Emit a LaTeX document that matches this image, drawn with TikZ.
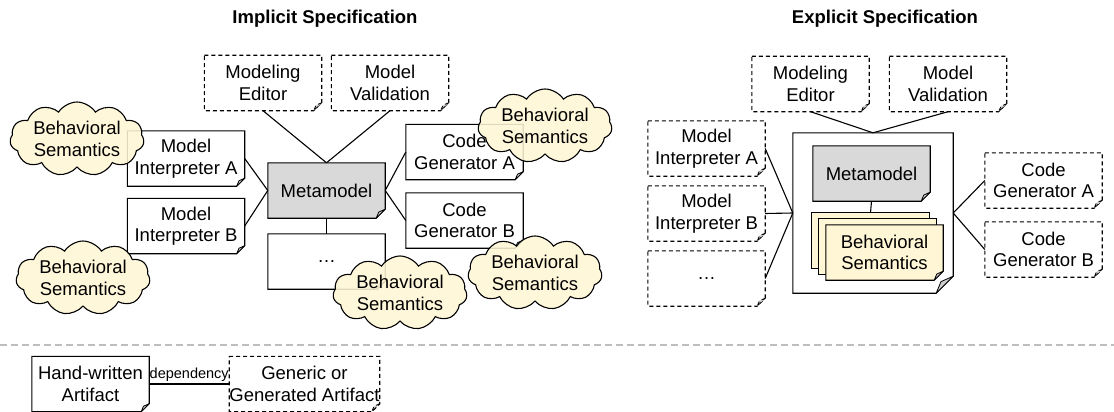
\documentclass[tikz,border=0pt]{standalone}
\usepackage{fontspec}
\setmainfont{Liberation Sans}
\usetikzlibrary{shapes.symbols,backgrounds,calc}
\definecolor{cloudc}{RGB}{255,246,214}
\definecolor{mmc}{RGB}{217,217,217}
\definecolor{flapc}{RGB}{205,205,205}
\definecolor{sepc}{RGB}{190,190,190}
\newcommand\lab{\fontsize{18.5}{21.5}\selectfont}
\newcommand\smalllab{\fontsize{14.5}{17}\selectfont}
\newcommand\docbox[4][]{%
 \begin{scope}[on background layer]
 \draw[line width=1.1pt,#1,fill=#4,line join=miter] (#2.north west) -- (#2.north east) -- ([yshift=#3]#2.south east) -- ([xshift=-#3]#2.south east) -- (#2.south west) -- cycle;
 \draw[line width=0.8pt,#1,fill=flapc,line join=round] ([yshift=#3]#2.south east) -- ([xshift=-0.72*#3,yshift=0.68*#3]#2.south east) -- ([xshift=-#3]#2.south east) -- cycle;
 \end{scope}}
\begin{document}
\begin{tikzpicture}[x=1pt,y=-1pt,
  box/.style={minimum width=117pt, minimum height=55pt, inner sep=0pt, align=center, font=\lab},
  cloudn/.style={cloud, cloud puffs=11, cloud puff arc=115, cloud ignores aspect, minimum width=134pt, minimum height=74pt, inner sep=0pt, draw, line width=1.1pt, fill=cloudc, fill opacity=0.88, text opacity=1, align=center, font=\lab},
  ttl/.style={font=\fontsize{18.5}{21}\selectfont\bfseries},
  conn/.style={line width=1.1pt},
  dsh/.style={dash pattern=on 4pt off 3pt}]
\begin{scope}[on background layer]
\fill[white] (0,0) rectangle (1114,412);
\end{scope}
\useasboundingbox (0,0) rectangle (1114,412);

% titles
\node[ttl] (t1) at (325,19) {Implicit Specification};
\node[ttl] (t2) at (885,19) {Explicit Specification};

% ---------- implicit ----------
\node[box] (ed1) at (263,83) {Modeling\\Editor};
\docbox[dsh]{ed1}{8pt}{white}
\node[box] (val1) at (390,83) {Model\\Validation};
\docbox[dsh]{val1}{8pt}{white}
\node[box] (ia) at (186,158.5) {Model\\Interpreter A};
\docbox{ia}{8pt}{white}
\node[box] (ib) at (186,226) {Model\\Interpreter B};
\docbox{ib}{8pt}{white}
\node[box] (mm1) at (326.5,190.5) {Metamodel};
\docbox{mm1}{9pt}{mmc}
\node[box] (dots1) at (326.5,261.5) {…};
\docbox{dots1}{8pt}{white}
\node[box] (ga) at (464.5,152) {Code\\Generator A};
\docbox{ga}{8pt}{white}
\node[box] (gb) at (464.5,220.5) {Code\\Generator B};
\docbox{gb}{8pt}{white}

\draw[conn] (ed1.south) -- (mm1.north);
\draw[conn] (val1.south) -- (mm1.north);
\draw[conn] (ia.east) -- (mm1.west);
\draw[conn] (ib.east) -- (mm1.west);
\draw[conn] (ga.west) -- (mm1.east);
\draw[conn] (gb.west) -- (mm1.east);
\draw[conn] (mm1.south) -- (dots1.north);

% clouds
\node[cloudn] (c1) at (77,139) {Behavioral\\Semantics};
\node[cloudn] (c2) at (83,278) {Behavioral\\Semantics};
\node[cloudn] (c3) at (545,126) {Behavioral\\Semantics};
\node[cloudn] (c4) at (400,293) {Behavioral\\Semantics};
\node[cloudn] (c5) at (535,273) {Behavioral\\Semantics};

% ---------- explicit ----------
\node[box] (ed2) at (810.5,84) {Modeling\\Editor};
\docbox[dsh]{ed2}{8pt}{white}
\node[box] (val2) at (948,84) {Model\\Validation};
\docbox[dsh]{val2}{8pt}{white}
\node[minimum width=160pt, minimum height=160pt, inner sep=0pt] (cont) at (873,213) {};
\docbox{cont}{17pt}{white}
\node[box] (mm2) at (871.5,173.5) {Metamodel};
\docbox{mm2}{9pt}{mmc}
\node[box] (bs3) at (870.5,240.5) {};
\node[box] (bs2) at (877.5,246.5) {};
\begin{scope}[on background layer]
\draw[line width=1.1pt, fill=cloudc] (bs3.north west) rectangle (bs3.south east);
\draw[line width=1.1pt, fill=cloudc] (bs2.north west) rectangle (bs2.south east);
\end{scope}
\node[box] (bs1) at (884.5,252.5) {Behavioral\\Semantics};
\docbox{bs1}{9pt}{cloudc}
\node[box] (ia2) at (706.5,148.5) {Model\\Interpreter A};
\docbox[dsh]{ia2}{8pt}{white}
\node[box] (ib2) at (706.5,213.5) {Model\\Interpreter B};
\docbox[dsh]{ib2}{8pt}{white}
\node[box] (dots2) at (706.5,278.5) {…};
\docbox[dsh]{dots2}{8pt}{white}
\node[box] (ga2) at (1043.5,180.5) {Code\\Generator A};
\docbox[dsh]{ga2}{8pt}{white}
\node[box] (gb2) at (1043.5,249.5) {Code\\Generator B};
\docbox[dsh]{gb2}{8pt}{white}

\draw[conn] (ed2.south) -- (cont.north);
\draw[conn] (val2.south) -- (cont.north);
\draw[conn] (ia2.east) -- (cont.west);
\draw[conn] (ib2.east) -- (cont.west);
\draw[conn] (dots2.east) -- (cont.west);
\draw[conn] (cont.east) -- (ga2.west);
\draw[conn] (cont.east) -- (gb2.west);
\draw[conn] (mm2.south) -- (bs3.north);

% ---------- legend ----------
\coordinate (sepL) at (0,345);
\coordinate (sepR) at (1114,345);
\draw[sepc, line width=1.5pt, dash pattern=on 7pt off 4pt] (sepL) -- (sepR);
\node[box] (hw) at (90.5,384) {Hand-written\\Artifact};
\docbox{hw}{8pt}{white}
\node[box] (gen) at (304.5,384) {Generic or\\Generated Artifact};
\docbox[dsh]{gen}{8pt}{white}
\draw[conn] (hw.east) -- node[above, font=\smalllab, inner sep=2pt] (dep) {dependency} (gen.west);
\end{tikzpicture}
\end{document}
